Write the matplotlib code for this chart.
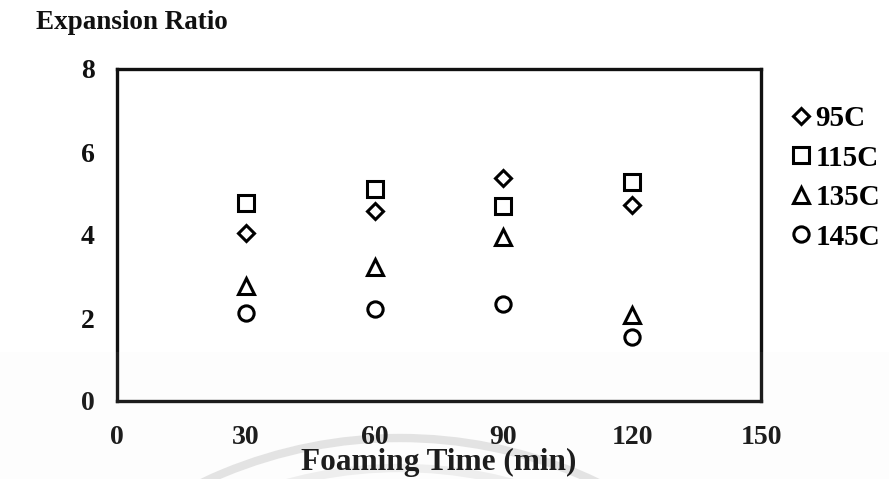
import matplotlib
matplotlib.use("Agg")
import matplotlib.pyplot as plt
from matplotlib.patches import Arc, Rectangle

# foaming time (min) and expansion ratio per temperature
times = [30, 60, 90, 120]
ratio_95 = [4.04, 4.58, 5.38, 4.72]
ratio_115 = [4.77, 5.10, 4.71, 5.28]
ratio_135 = [2.77, 3.22, 3.94, 2.07]
ratio_145 = [2.13, 2.21, 2.33, 1.55]

labels = ["95C", "115C", "135C", "145C"]
markers = ["D", "s", "^", "o"]
sizes = [8, 11, 11, 11]
x_ticks = [0, 30, 60, 90, 120, 150]
y_ticks = [0, 2, 4, 6, 8]

plt.rcParams["font.family"] = ["Liberation Serif", "DejaVu Serif"]
plt.rcParams["font.weight"] = "bold"

fig = plt.figure(figsize=(8.89, 4.79), dpi=100)
ax = fig.add_axes([117 / 889, 1 - 401 / 479, (761 - 117) / 889, (401 - 69) / 479])

for ys, lab, mk, ms in zip([ratio_95, ratio_115, ratio_135, ratio_145], labels, markers, sizes):
    ax.plot(times, ys, linestyle="none", marker=mk, markersize=ms,
            markerfacecolor="white", markeredgecolor="black", markeredgewidth=2.2,
            label=lab)

ax.set_xlim(0, 150)
ax.set_ylim(0, 8)
ax.set_xticks(x_ticks)
ax.set_yticks(y_ticks)
ax.tick_params(length=0, labelsize=20, labelcolor="#111111")
ax.tick_params(axis="y", pad=16)
ax.tick_params(axis="x", pad=17)
for s in ax.spines.values():
    s.set_linewidth(2.4)
    s.set_color("#111111")

ax.set_xlabel("Foaming Time (min)", fontsize=22.5, fontweight="bold", color="#111111")
ax.xaxis.set_label_coords(0.5, (401 - 470) / 332)
ax.xaxis.label.set_va("baseline")
fig.text(36 / 889, 1 - 29 / 479, "Expansion Ratio", fontsize=19.5, fontweight="bold",
         color="#111111", ha="left", va="baseline")

ax.legend(loc="upper left", bbox_to_anchor=(792 / 889, 1 - 105 / 479),
          bbox_transform=fig.transFigure, frameon=False,
          handlelength=0.65, handletextpad=0.15, borderpad=0, borderaxespad=0,
          labelspacing=0.43, prop={"weight": "bold", "size": 21})

# faint watermark left in the scanned figure
for r, c in [(461, "#e4e4e4"), (431, "#efefef")]:
    fig.patches.append(Arc((400 / 889, 1 - 899 / 479), 2 * r / 889, 2 * r / 479,
                           transform=fig.transFigure, color=c, linewidth=6, zorder=-1))
fig.patches.append(Rectangle((0, 0), 1, 1 - 352 / 479, transform=fig.transFigure,
                             facecolor="#e0e0e0", edgecolor="none", alpha=0.06, zorder=10))

fig.savefig("out.png", dpi=100)
